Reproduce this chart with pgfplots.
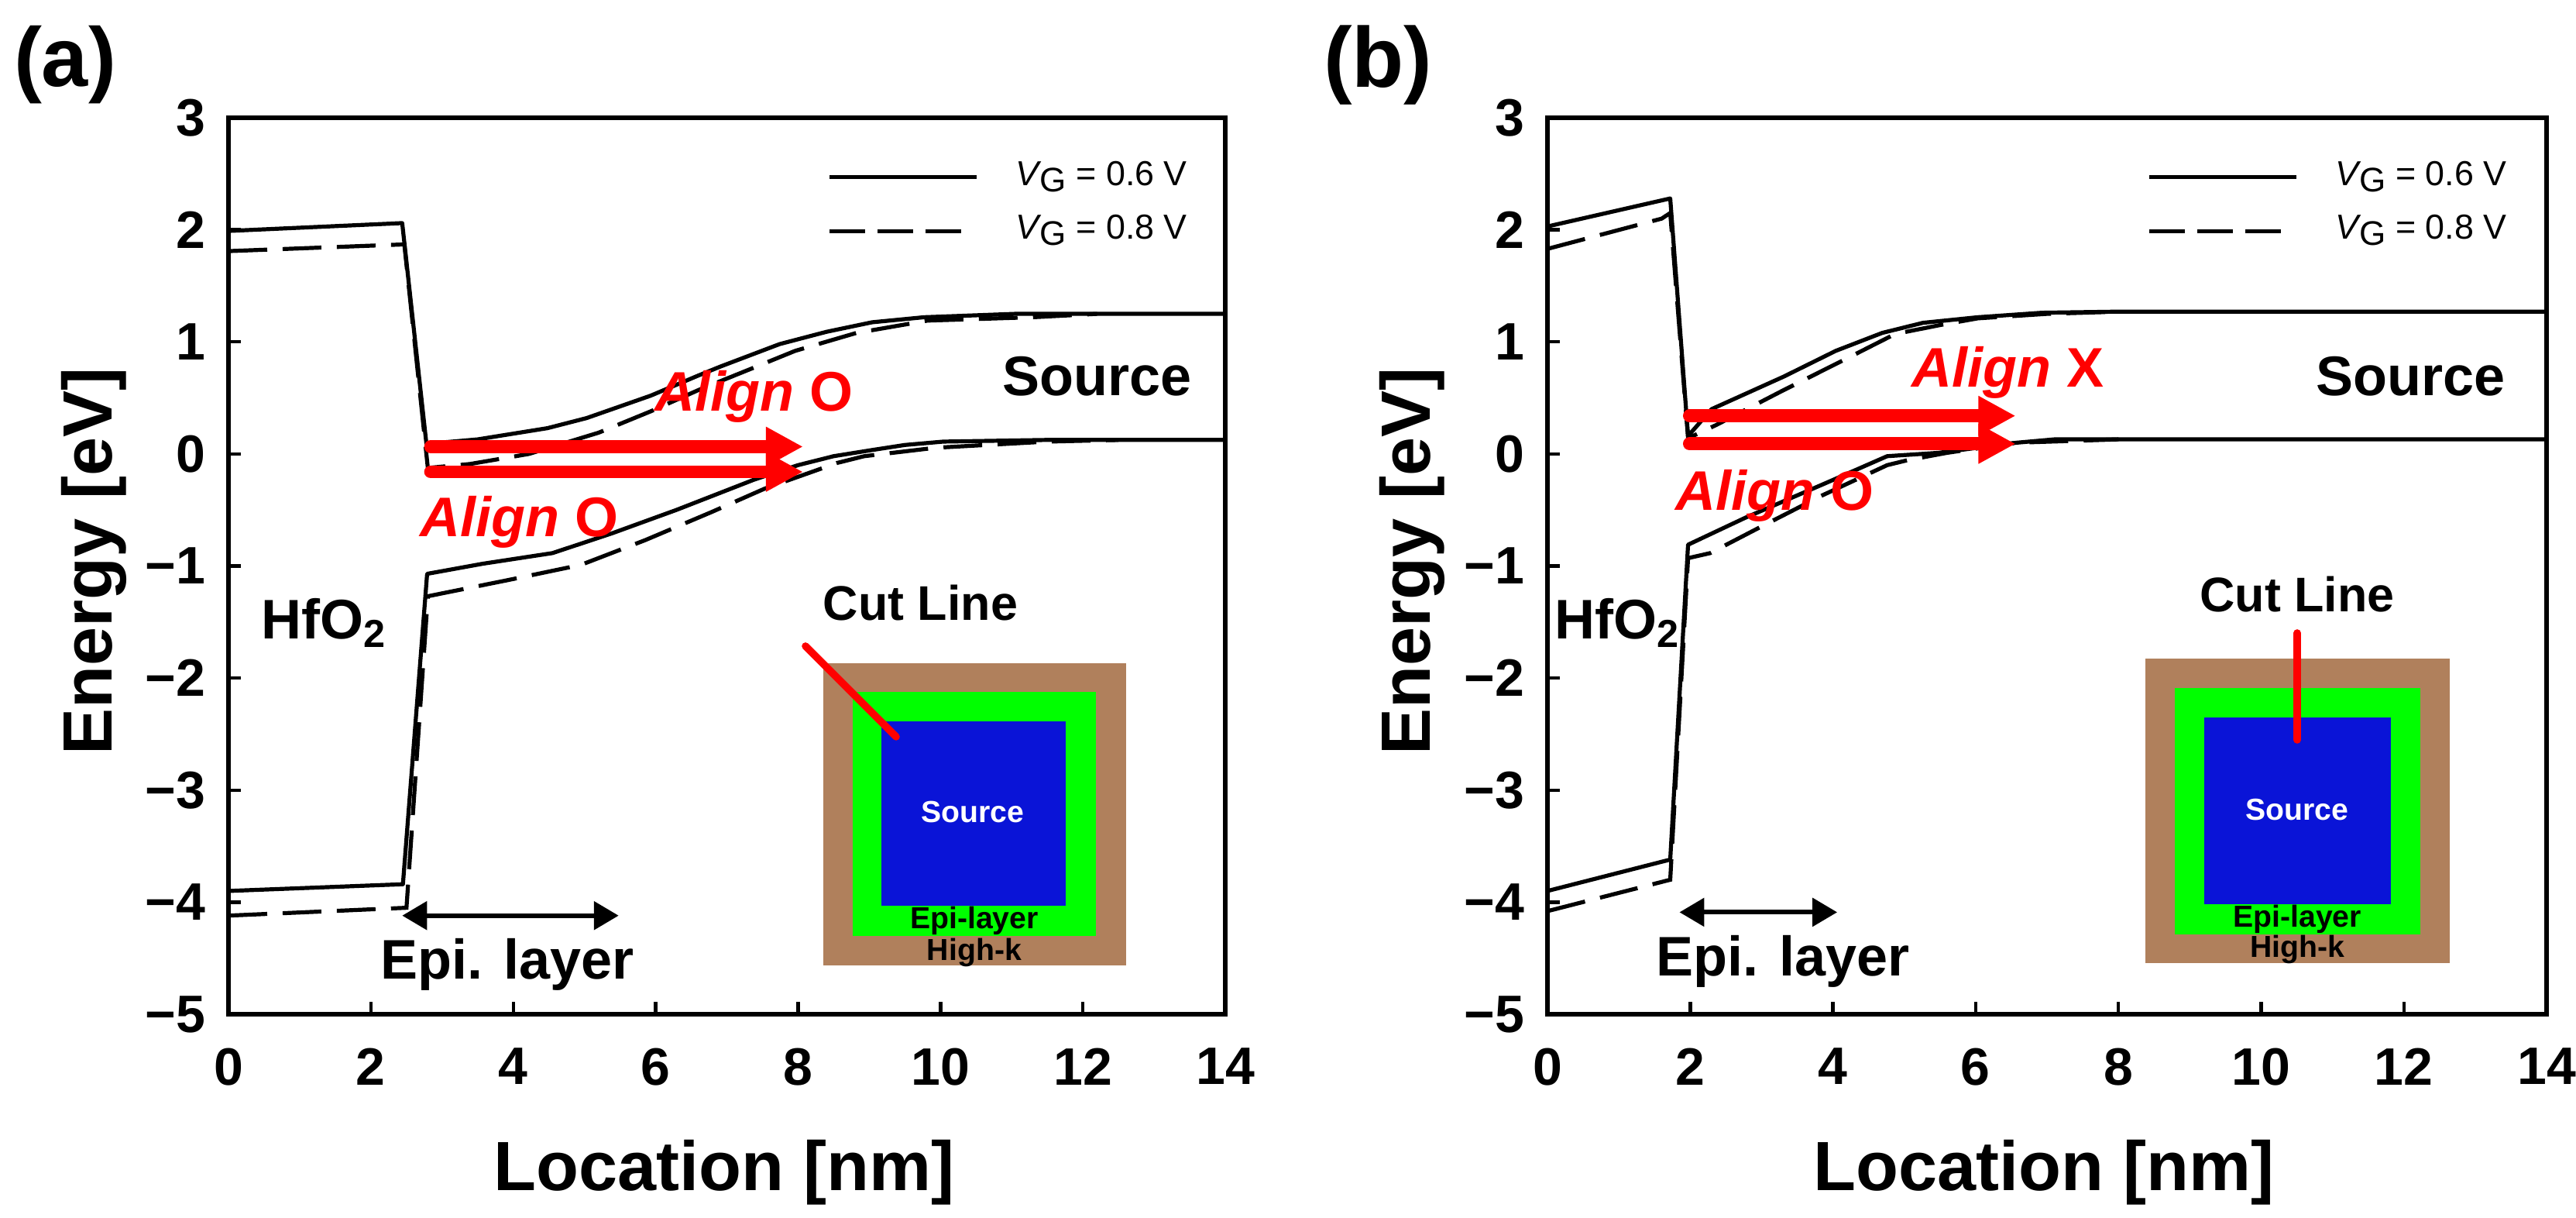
\documentclass[border=0pt]{standalone}
\usepackage{fontspec}
\setmainfont{Liberation Sans}
\usepackage{pgfplots}
\pgfplotsset{compat=1.18}
\usetikzlibrary{arrows.meta}

\definecolor{hbrown}{RGB}{176,128,92}
\definecolor{egreen}{RGB}{0,255,0}
\definecolor{sblue}{RGB}{10,20,215}

\newcommand{\fs}[1]{\fontsize{#1}{#1}\selectfont}
\newcommand{\vg}[1]{\textit{V}\kern-0.5pt\raisebox{-2pt}{\fontsize{11}{11}\selectfont G} = #1 V}

\pgfplotsset{
  panel/.style={
    scale only axis, height=289.25pt,
    xmin=0, xmax=14, ymin=-5, ymax=3,
    xtick={0,2,...,14}, ytick={-5,-4,...,3},
    xticklabels={0,2,4,6,8,10,12,14},
    yticklabels={−5,−4,−3,−2,−1,0,1,2,3},
    xtick pos=lower, ytick pos=left, tick align=inside,
    major tick length=4pt,
    tick style={black,line width=1.1pt},
    axis line style={line width=1.6pt},
    tick label style={font=\fs{17}\bfseries},
    xticklabel style={yshift=-7.5pt},
    yticklabel style={xshift=-4pt},
    xlabel={Location [nm]}, ylabel={Energy [eV]},
    label style={font=\fs{22.5}\bfseries},
    every axis x label/.append style={at={(axis description cs:0.497,-0.1765)},anchor=center},
    every axis y label/.append style={at={(axis description cs:-0.135,0.505)},anchor=center},
    clip=false,
  },
}
\tikzset{
  sol/.style={black,line width=1.3pt,line join=round},
  das/.style={black,line width=1.3pt,dash pattern=on 12.5pt off 5pt},
  red arrow/.style={red,line width=4.2pt,line cap=round,-{Triangle[length=12pt,width=12pt]}},
  epi arrow/.style={black,line width=1.5pt,{Triangle[length=8pt,width=9pt]}-{Triangle[length=8pt,width=9pt]}},
  bigbf/.style={font=\fs{18}\bfseries},
  alignlbl/.style={red,anchor=base,font=\fs{18}\bfseries},
  smalltxt/.style={font=\fs{9.8}\bfseries},
  legtxt/.style={anchor=base west,inner sep=0pt,font=\fs{11.2}},
}

\begin{document}
\begin{tikzpicture}
\path[use as bounding box] (0,0) rectangle (831.5pt,393pt);
\node[font=\fs{27}\bfseries] at (21pt,372pt) {(a)};
\node[font=\fs{27.5}\bfseries] at (444.8pt,372pt) {(b)};

% panel a
\begin{axis}[panel, at={(73.75pt,65.75pt)}, width=321.75pt]
\addplot[fill=hbrown,draw=none] coordinates {(8.354,-1.867)(12.607,-1.867)(12.607,-4.564)(8.354,-4.564)};
\addplot[fill=egreen,draw=none] coordinates {(8.767,-2.123)(12.183,-2.123)(12.183,-4.301)(8.767,-4.301)};
\addplot[fill=sblue,draw=none] coordinates {(9.175,-2.386)(11.759,-2.386)(11.759,-4.032)(9.175,-4.032)};
\addplot[red,line width=2.4pt,line cap=round] coordinates {(8.104,-1.715)(9.377,-2.524)};

\addplot[sol] coordinates {(0,1.99)(2.44,2.06)(2.78,0.09)(3.5,0.13)(4.48,0.23)(5.03,0.32)(5.93,0.52)(6.6,0.70)(6.91,0.78)(7.74,0.98)(8.4,1.09)(9.04,1.175)(9.77,1.22)(11.04,1.25)(14,1.25)};
\addplot[das] coordinates {(0,1.81)(2.47,1.87)(2.8,-0.125)(3.39,-0.09)(4.22,0)(5.2,0.19)(5.93,0.38)(6.6,0.57)(7.34,0.76)(7.96,0.92)(8.82,1.08)(9.82,1.19)(11.3,1.22)(12.2,1.25)};
\addplot[sol] coordinates {(0,-3.9)(2.45,-3.84)(2.79,-1.07)(3.57,-0.98)(4.55,-0.885)(5.38,-0.71)(6.29,-0.5)(7.38,-0.23)(8,-0.1)(8.5,-0.02)(9.04,0.035)(9.5,0.08)(10.04,0.11)(11.5,0.125)(14,0.125)};
\addplot[das] coordinates {(0,-4.12)(2.5,-4.05)(2.8,-1.27)(3.97,-1.12)(4.95,-0.99)(5.85,-0.77)(6.78,-0.52)(7.53,-0.31)(8.55,-0.08)(8.93,-0.02)(9.93,0.055)(11.5,0.11)(12.5,0.125)};

\addplot[red arrow] coordinates {(2.84,0.065)(8.07,0.065)};
\addplot[red arrow] coordinates {(2.84,-0.16)(8.07,-0.16)};
\addplot[epi arrow] coordinates {(2.44,-4.12)(5.48,-4.12)};

\addplot[sol] coordinates {(8.44,2.469)(10.51,2.469)};
\addplot[das,dash pattern=on 11.5pt off 4pt] coordinates {(8.44,1.985)(10.30,1.985)};
\node[legtxt] at (axis cs:11.05,2.393) {\vg{0.6}};
\node[legtxt] at (axis cs:11.05,1.92) {\vg{0.8}};

\node[alignlbl] at (axis cs:7.38,0.38) {\textit{Align} O};
\node[alignlbl] at (axis cs:4.08,-0.74) {\textit{Align} O};
\node[bigbf] at (axis cs:12.2,0.69) {Source};
\node[bigbf,anchor=base] at (axis cs:1.34,-1.65) {HfO\textsubscript{2}};
\node[bigbf] at (axis cs:3.92,-4.56) {Epi. layer};
\node[font=\fs{15.7}\bfseries] at (axis cs:9.72,-1.328) {Cut Line};
\node[smalltxt,white] at (axis cs:10.453,-3.195) {Source};
\node[smalltxt] at (axis cs:10.475,-4.163) {Epi-layer};
\node[smalltxt] at (axis cs:10.475,-4.447) {High-k};
\end{axis}

% panel b
\begin{axis}[panel, at={(499.5pt,65.75pt)}, width=322.5pt]
\addplot[fill=hbrown,draw=none] coordinates {(8.378,-1.829)(12.644,-1.829)(12.644,-4.544)(8.378,-4.544)};
\addplot[fill=egreen,draw=none] coordinates {(8.791,-2.089)(12.231,-2.089)(12.231,-4.288)(8.791,-4.288)};
\addplot[fill=sblue,draw=none] coordinates {(9.203,-2.351)(11.819,-2.351)(11.819,-4.018)(9.203,-4.018)};
\addplot[red,line width=2.4pt,line cap=round] coordinates {(10.506,-1.598)(10.506,-2.552)};

\addplot[sol] coordinates {(0,2.03)(1.72,2.28)(1.97,0.16)(2.3,0.40)(3.31,0.69)(4.04,0.92)(4.69,1.08)(5.26,1.17)(6.03,1.22)(6.93,1.26)(8,1.27)(14,1.27)};
\addplot[das] coordinates {(0,1.83)(1.6,2.1)(1.72,2.15)(1.97,0.14)(2.37,0.26)(3.28,0.56)(4.22,0.86)(4.87,1.07)(5.5,1.15)(6.03,1.21)(7,1.25)(8,1.27)};
\addplot[sol] coordinates {(0,-3.9)(1.72,-3.62)(1.97,-0.81)(2.77,-0.57)(3.9,-0.26)(4.76,-0.02)(5.48,0.01)(6.57,0.10)(7.1,0.13)(8,0.13)(14,0.13)};
\addplot[das] coordinates {(0,-4.08)(1.72,-3.8)(1.97,-0.93)(2.28,-0.885)(2.93,-0.67)(3.85,-0.37)(4.76,-0.10)(5.05,-0.055)(5.6,0.01)(6.57,0.10)(8,0.13)};

\addplot[red arrow] coordinates {(1.99,0.34)(6.56,0.34)};
\addplot[red arrow] coordinates {(1.99,0.09)(6.56,0.09)};
\addplot[epi arrow] coordinates {(1.85,-4.09)(4.06,-4.09)};

\addplot[sol] coordinates {(8.43,2.469)(10.49,2.469)};
\addplot[das,dash pattern=on 11.5pt off 4pt] coordinates {(8.43,1.985)(10.28,1.985)};
\node[legtxt] at (axis cs:11.03,2.393) {\vg{0.6}};
\node[legtxt] at (axis cs:11.03,1.92) {\vg{0.8}};

\node[alignlbl] at (axis cs:6.45,0.60) {\textit{Align} X};
\node[alignlbl] at (axis cs:3.19,-0.50) {\textit{Align} O};
\node[bigbf] at (axis cs:12.1,0.69) {Source};
\node[bigbf,anchor=base] at (axis cs:0.98,-1.65) {HfO\textsubscript{2}};
\node[bigbf] at (axis cs:3.3,-4.53) {Epi. layer};
\node[font=\fs{15.7}\bfseries] at (axis cs:10.506,-1.252) {Cut Line};
\node[smalltxt,white] at (axis cs:10.506,-3.174) {Source};
\node[smalltxt] at (axis cs:10.506,-4.149) {Epi-layer};
\node[smalltxt] at (axis cs:10.506,-4.419) {High-k};
\end{axis}
\end{tikzpicture}
\end{document}
